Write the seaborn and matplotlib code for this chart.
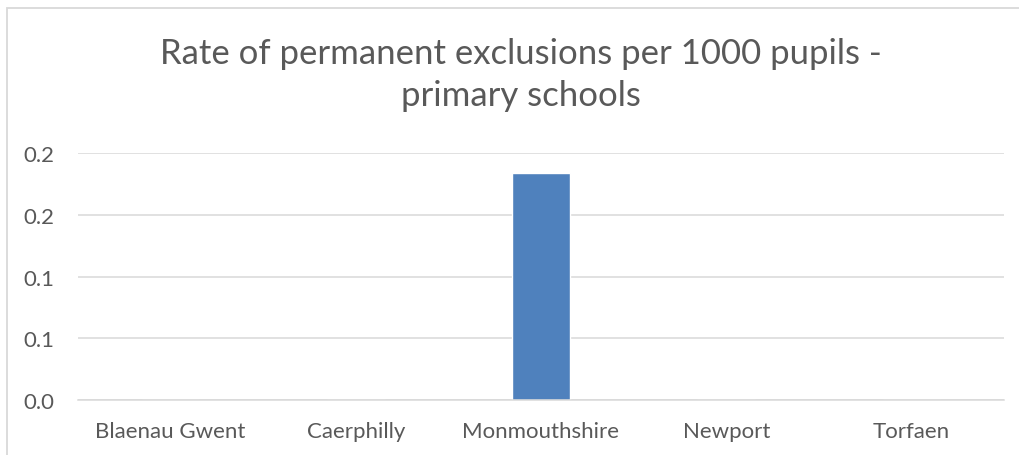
import matplotlib
matplotlib.use("Agg")
import matplotlib.pyplot as plt
import seaborn as sns
import pandas as pd
from matplotlib.patches import Rectangle

# chart data
councils = ["Blaenau Gwent", "Caerphilly", "Monmouthshire", "Newport", "Torfaen"]
rates = [0.0, 0.0, 0.184, 0.0, 0.0]
ytick_values = [0.0, 0.05, 0.10, 0.15, 0.20]
ytick_labels = ["0.0", "0.1", "0.1", "0.2", "0.2"]
title_text = "Rate of permanent exclusions per 1000 pupils -\nprimary schools"

TEXT = "#595959"
GRID = "#d9d9d9"
BAR = "#4f81bd"


def main():
    sns.set_theme(style="white")
    plt.rcParams["font.family"] = ["Lato", "DejaVu Sans"]

    df = pd.DataFrame({"Council": councils, "Rate": rates})

    fig = plt.figure(figsize=(10.19, 4.56), dpi=100)
    ax = fig.add_axes([78 / 1019, 1 - 401 / 456, (1004 - 78) / 1019, (401 - 154) / 456])

    sns.barplot(data=df, x="Council", y="Rate", color=BAR, saturation=1,
                width=0.31, ax=ax)

    ax.set_ylim(0, 0.2)
    ax.set_xlim(-0.5, len(councils) - 0.5)
    ax.set_yticks(ytick_values)
    ax.set_yticklabels(ytick_labels)
    ax.yaxis.grid(True, color=GRID, linewidth=1.1)
    ax.set_axisbelow(True)
    ax.tick_params(axis="y", length=0, pad=17, labelsize=16, labelcolor=TEXT)
    ax.tick_params(axis="x", length=0, pad=15, labelsize=16, labelcolor=TEXT)
    ax.set_xlabel("")
    ax.set_ylabel("")
    for side in ["left", "right", "top"]:
        ax.spines[side].set_visible(False)
    ax.spines["bottom"].set_color(GRID)
    ax.spines["bottom"].set_linewidth(1.1)

    # chart area border (runs off the right and bottom edges)
    fig.patches.append(Rectangle((7 / 1019, -0.1), 1.2, 1 - 9 / 456 + 0.1,
                                 transform=fig.transFigure, fill=False,
                                 edgecolor=GRID, linewidth=1.3))

    fig.text(521 / 1019, 1 - 38 / 456, title_text, ha="center", va="top",
             fontsize=25, color=TEXT, linespacing=1.4)

    fig.savefig("out.png", dpi=100)


if __name__ == "__main__":
    main()
